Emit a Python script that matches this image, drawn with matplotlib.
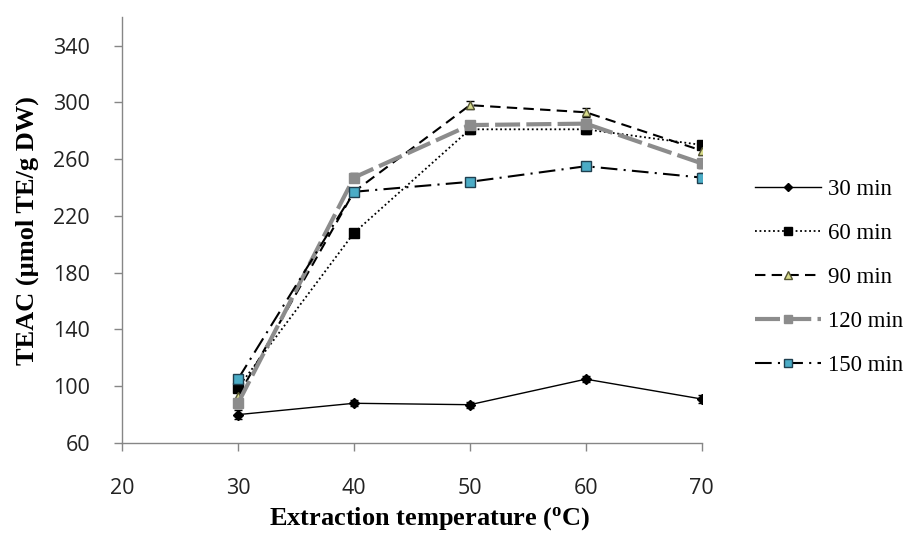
import matplotlib
matplotlib.use("Agg")
import matplotlib.pyplot as plt
import numpy as np

temps = [30, 40, 50, 60, 70]
teac_30 = [80, 88, 87, 105, 91]
teac_60 = [99, 208, 281, 281, 270]
teac_90 = [93, 237, 298, 293, 266]
teac_120 = [88, 247, 284, 285, 257]
teac_150 = [105, 237, 244, 255, 247]
err_30 = [3, 2, 2, 2, 3]
err_60 = [3, 3, 3, 3, 3]
err_90 = [3, 3, 3, 3, 3]
err_120 = [3, 3, 3, 3, 3]
err_150 = [3, 3, 3, 3, 3]
labels = ["30 min", "60 min", "90 min", "120 min", "150 min"]

fig = plt.figure(figsize=(9.21, 5.37), dpi=100)
ax = fig.add_axes([0.1325, 0.175, 0.6295, 0.793])

tick_font = "Open Sans"
serif = "Liberation Serif"

series = [
    (teac_30, err_30, dict(color="black", lw=1.0, ls="-", marker="D", ms=5,
                           mfc="black", mec="black")),
    (teac_60, err_60, dict(color="black", lw=1.3, ls=(0, (1, 1.5)), marker="s", ms=7,
                           mfc="black", mec="black")),
    (teac_90, err_90, dict(color="black", lw=1.5, ls=(0, (5, 3)), marker="^", ms=6,
                           mfc="#d8dc8c", mec="#555533")),
    (teac_120, err_120, dict(color="#8c8c8c", lw=3.0, ls=(0, (6, 1.5)), marker="s", ms=7,
                             mfc="#8c8c8c", mec="#8c8c8c")),
    (teac_150, err_150, dict(color="black", lw=1.5, ls=(0, (8, 3, 1, 3)), marker="s", ms=7,
                             mfc="#4bacc6", mec="#1f3f4f")),
]

handles = []
for (vals, err, st), lab in zip(series, labels):
    ax.errorbar(temps, vals, yerr=err, fmt="none", ecolor="black", elinewidth=0.8,
                capsize=3, zorder=2)
    h, = ax.plot(temps, vals, label=lab, zorder=3, **st)
    handles.append(h)

ax.set_xlim(20, 70)
ax.set_ylim(60, 360)
ax.set_xticks([20, 30, 40, 50, 60, 70])
ax.set_yticks([60, 100, 140, 180, 220, 260, 300, 340])

for s in ["top", "right"]:
    ax.spines[s].set_visible(False)
for s in ["left", "bottom"]:
    ax.spines[s].set_color("#868686")
    ax.spines[s].set_linewidth(1.0)
ax.tick_params(axis="both", colors="#868686", length=6, width=1.0, direction="out",
               labelcolor="#222222", labelsize=15.5)
ax.tick_params(axis="x", pad=19)
ax.tick_params(axis="y", pad=17)
for lbl in ax.get_xticklabels() + ax.get_yticklabels():
    lbl.set_fontfamily(tick_font)

ax.set_xlabel("Extraction temperature ($\\mathregular{^o}$C)", fontsize=19,
              fontweight="bold", family=serif)
ax.xaxis.set_label_coords(0.53, -0.178)
ax.xaxis.label.set_va("center")
ax.set_ylabel("TEAC (\u00b5mol TE/g DW)", fontsize=19, fontweight="bold",
              family=serif)
ax.yaxis.set_label_coords(-0.164, 0.5)
ax.yaxis.label.set_va("center")

leg = fig.legend(handles=handles, labels=labels, loc="center left",
                 bbox_to_anchor=(0.797, 0.483), frameon=False,
                 prop={"family": serif, "size": 16.5}, handlelength=2.9,
                 labelspacing=1.0, handletextpad=0.3, markerscale=0.9)

fig.savefig("out.png", dpi=100)
